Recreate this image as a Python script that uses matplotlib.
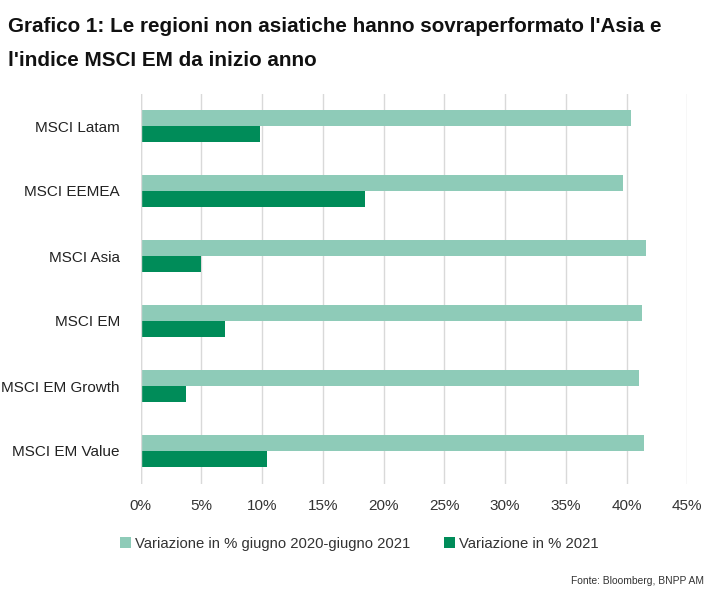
import matplotlib
matplotlib.use("Agg")
import matplotlib.pyplot as plt
import numpy as np
from matplotlib import font_manager

names = {f.name for f in font_manager.fontManager.ttflist}
narrow = 'Liberation Sans Narrow' if 'Liberation Sans Narrow' in names else 'Liberation Sans'
plt.rcParams['font.family'] = [narrow, 'DejaVu Sans']

categories = ["MSCI Latam", "MSCI EEMEA", "MSCI Asia", "MSCI EM", "MSCI EM Growth", "MSCI EM Value"]
var_12m = [40.35, 39.7, 41.6, 41.3, 41.0, 41.4]
var_ytd = [9.8, 18.5, 4.95, 6.9, 3.7, 10.4]
xticks = [0, 5, 10, 15, 20, 25, 30, 35, 40, 45]
series_names = ["Variazione in % giugno 2020-giugno 2021", "Variazione in % 2021"]
title_lines = ["Grafico 1: Le regioni non asiatiche hanno sovraperformato l'Asia e",
               "l'indice MSCI EM da inizio anno"]
source = "Fonte: Bloomberg, BNPP AM"

light = "#8ECBB8"
dark = "#008C59"

W, H = 725, 610
fig = plt.figure(figsize=(W/100, H/100), dpi=100)
x0, x1 = 140.7, 687.3
y0, y1 = 93.5, 483.5
ax = fig.add_axes([x0/W, 1-y1/H, (x1-x0)/W, (y1-y0)/H])

y = np.arange(len(categories))
h = 0.246
ax.barh(y - h/2, var_12m, height=h, color=light, label=series_names[0], zorder=3)
ax.barh(y + h/2, var_ytd, height=h, color=dark, label=series_names[1], zorder=3)

ax.set_ylim(len(categories)-0.5, -0.5)
ax.set_xlim(0, 45)
ax.set_xticks(xticks)
ax.set_xticklabels([f"{t}%" for t in xticks], fontsize=11, color="#333333")
ax.set_yticks(y)
ax.set_yticklabels(categories, fontsize=11, color="#222222")
ax.tick_params(axis='both', length=0)
ax.tick_params(axis='x', pad=11)
ax.tick_params(axis='y', pad=15)
ax.grid(axis='x', color="#D9D9D9", linewidth=1, zorder=0)
for s in ax.spines.values():
    s.set_visible(False)
ax.axvline(0, color="#D9D9D9", linewidth=1, zorder=4)

leg = fig.legend(loc='center left', bbox_to_anchor=(114/W, 1-544/H), ncol=2,
                 frameon=False, fontsize=10.7, handlelength=0.75, handleheight=0.75,
                 handletextpad=0.25, columnspacing=2.3, borderaxespad=0)
for t in leg.get_texts():
    t.set_color("#333333")

fig.text(8/W, 1-27/H, title_lines[0], fontsize=14.9, fontweight='bold', va='center',
         ha='left', color="#111111")
fig.text(8/W, 1-61/H, title_lines[1], fontsize=14.9, fontweight='bold', va='center',
         ha='left', color="#111111")
fig.text(704/W, 1-581/H, source, fontsize=7.4, ha='right', va='center', color="#333333")

fig.savefig("out.png", dpi=100)
